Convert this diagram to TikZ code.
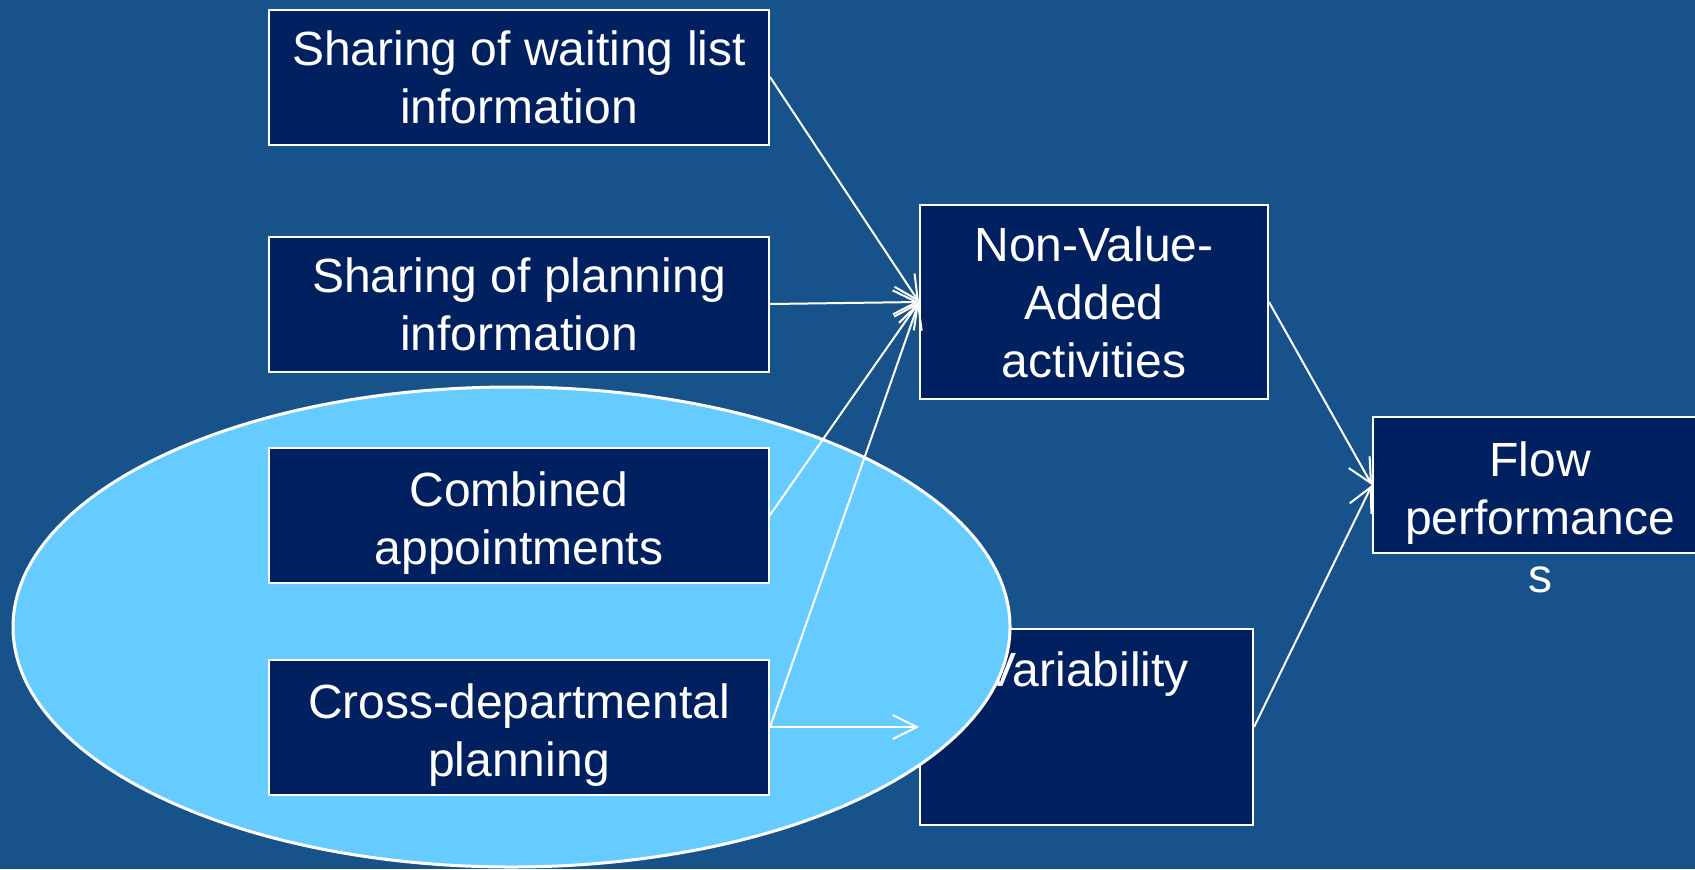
\documentclass[tikz,border=0pt]{standalone}
\usepackage{fontspec}
\setmainfont{Liberation Sans}
\usetikzlibrary{arrows.meta}
\definecolor{slidebg}{RGB}{23,83,138}
\definecolor{boxnavy}{RGB}{0,32,96}
\definecolor{ovalblue}{RGB}{102,204,255}
\newcommand{\topgap}{\rule{0pt}{25pt}}

\begin{document}
\begin{tikzpicture}[x=0.5pt, y=-0.5pt,
		boxtext/.style={text=white, font=\fontsize{24}{29}\selectfont},
		factor/.style={
			draw=white,
			fill=boxnavy,
			line width=1pt,
			boxtext,
			align=center,
			inner sep=0pt,
			minimum width=250pt,
			minimum height=67.5pt,
		},
		outcome/.style={factor, minimum width=174pt, minimum height=97pt},
		link/.style={draw=white, line width=1pt, -{Straight Barb[length=12pt,width=12pt]}}]
		\fill[slidebg] (0,0) rectangle (1695,869);
		\useasboundingbox (0,0) rectangle (1695,869);
		
		\node[factor, minimum width=166.5pt, minimum height=98pt,
			label={[boxtext, anchor=north, inner sep=0pt, yshift=-11.5pt]north:Variability}] (var) at (1086.5,727) {};
		
		\draw[white, fill=ovalblue, line width=1.5pt] (511.5,627) ellipse [x radius=249.25pt, y radius=120pt];
		
		\node[factor] (wait) at (519,77) {Sharing of waiting list\\information};
		\node[factor] (plan) at (519,304) {Sharing of planning\\information};
		\node[factor] (comb) at (519,515) {\topgap Combined\\appointments};
		\node[factor] (cross) at (519,727) {\topgap Cross-departmental\\planning};
		
		\node[outcome] (nva) at (1094,302) {Non-Value-\\Added\\activities};
		\node[factor, minimum width=167pt, minimum height=68pt,
			label={[boxtext, anchor=north, inner sep=0pt, yshift=-6pt]south:s}] (flow) at (1540,485) {\topgap Flow\\performance};
		
		\draw[link] (wait.east) -- (nva.west);
		\draw[link] (plan.east) -- (nva.west);
		\draw[link] (comb.east) -- (nva.west);
		\draw[link] (cross.east) -- (nva.west);
		\draw[link] (cross.east) -- (var.west);
		\draw[link] (nva.east) -- (flow.west);
		\draw[link] (var.east) -- (flow.west);
	\end{tikzpicture}
\end{document}
